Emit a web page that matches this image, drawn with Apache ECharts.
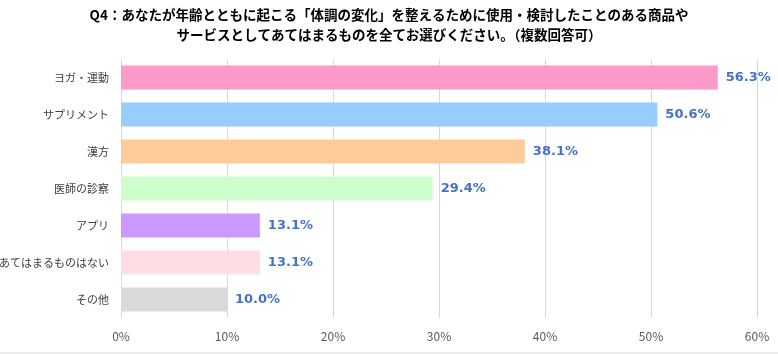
<!DOCTYPE html>
<html>
<head>
<meta charset="utf-8">
<script src="https://cdn.jsdelivr.net/npm/echarts@6/dist/echarts.min.js"></script>
<style>
  html, body { margin: 0; padding: 0; background: #fff; }
  #chart { width: 778px; height: 354px; }
</style>
</head>
<body>
<div id="chart"></div>
<script>
  const categories = ['ヨガ・運動', 'サプリメント', '漢方', '医師の診察', 'アプリ', 'あてはまるものはない', 'その他'];
  const values = [56.3, 50.6, 38.1, 29.4, 13.1, 13.1, 10.0];
  const barColors = ['#FF99CC', '#99CCFF', '#FFCC99', '#CCFFCC', '#CC99FF', '#FFDDE5', '#D9D9D9'];
  const tickValues = [0, 10, 20, 30, 40, 50, 60];

  const myChart = echarts.init(document.getElementById('chart'));

  myChart.setOption({
    animation: false,
    title: {
      text: 'Q4：あなたが年齢とともに起こる「体調の変化」を整えるために使用・検討したことのある商品や\nサービスとしてあてはまるものを全てお選びください。（複数回答可）',
      left: 'center',
      top: 0,
      textStyle: {
        fontFamily: 'Noto Sans CJK JP',
        fontSize: 13.5,
        fontWeight: 'bold',
        color: '#000',
        lineHeight: 20
      }
    },
    grid: {
      left: 121,
      right: 21,
      top: 59,
      bottom: 36,
      outerBoundsMode: 'none',
      containLabel: false
    },
    xAxis: {
      type: 'value',
      min: tickValues[0],
      max: tickValues[tickValues.length - 1],
      interval: 10,
      axisLine: { show: false },
      axisTick: { show: false },
      splitLine: { lineStyle: { color: '#D9D9D9', width: 1 } },
      axisLabel: {
        formatter: '{value}%',
        color: '#595959',
        fontSize: 12,
        fontFamily: 'Noto Sans CJK JP',
        margin: 12
      }
    },
    yAxis: {
      type: 'category',
      data: categories,
      inverse: true,
      axisTick: { show: false },
      axisLine: { show: true, lineStyle: { color: '#D9D9D9' } },
      axisLabel: {
        color: '#404040',
        fontSize: 11,
        fontFamily: 'Noto Sans CJK JP',
        margin: 12
      }
    },
    series: [
      {
        type: 'bar',
        data: values.map((v, i) => ({ value: v, itemStyle: { color: barColors[i] } })),
        barWidth: 24,
        label: {
          show: true,
          position: 'right',
          distance: 8,
          formatter: (p) => p.value.toFixed(1) + '%',
          color: '#4472C4',
          fontSize: 13,
          fontWeight: 'bold',
          fontFamily: 'DejaVu Sans'
        }
      }
    ],
    graphic: [
      {
        type: 'line',
        shape: { x1: 0, y1: 353, x2: 778, y2: 353 },
        style: { stroke: '#D9D9D9', lineWidth: 1 }
      }
    ]
  });
</script>
</body>
</html>
